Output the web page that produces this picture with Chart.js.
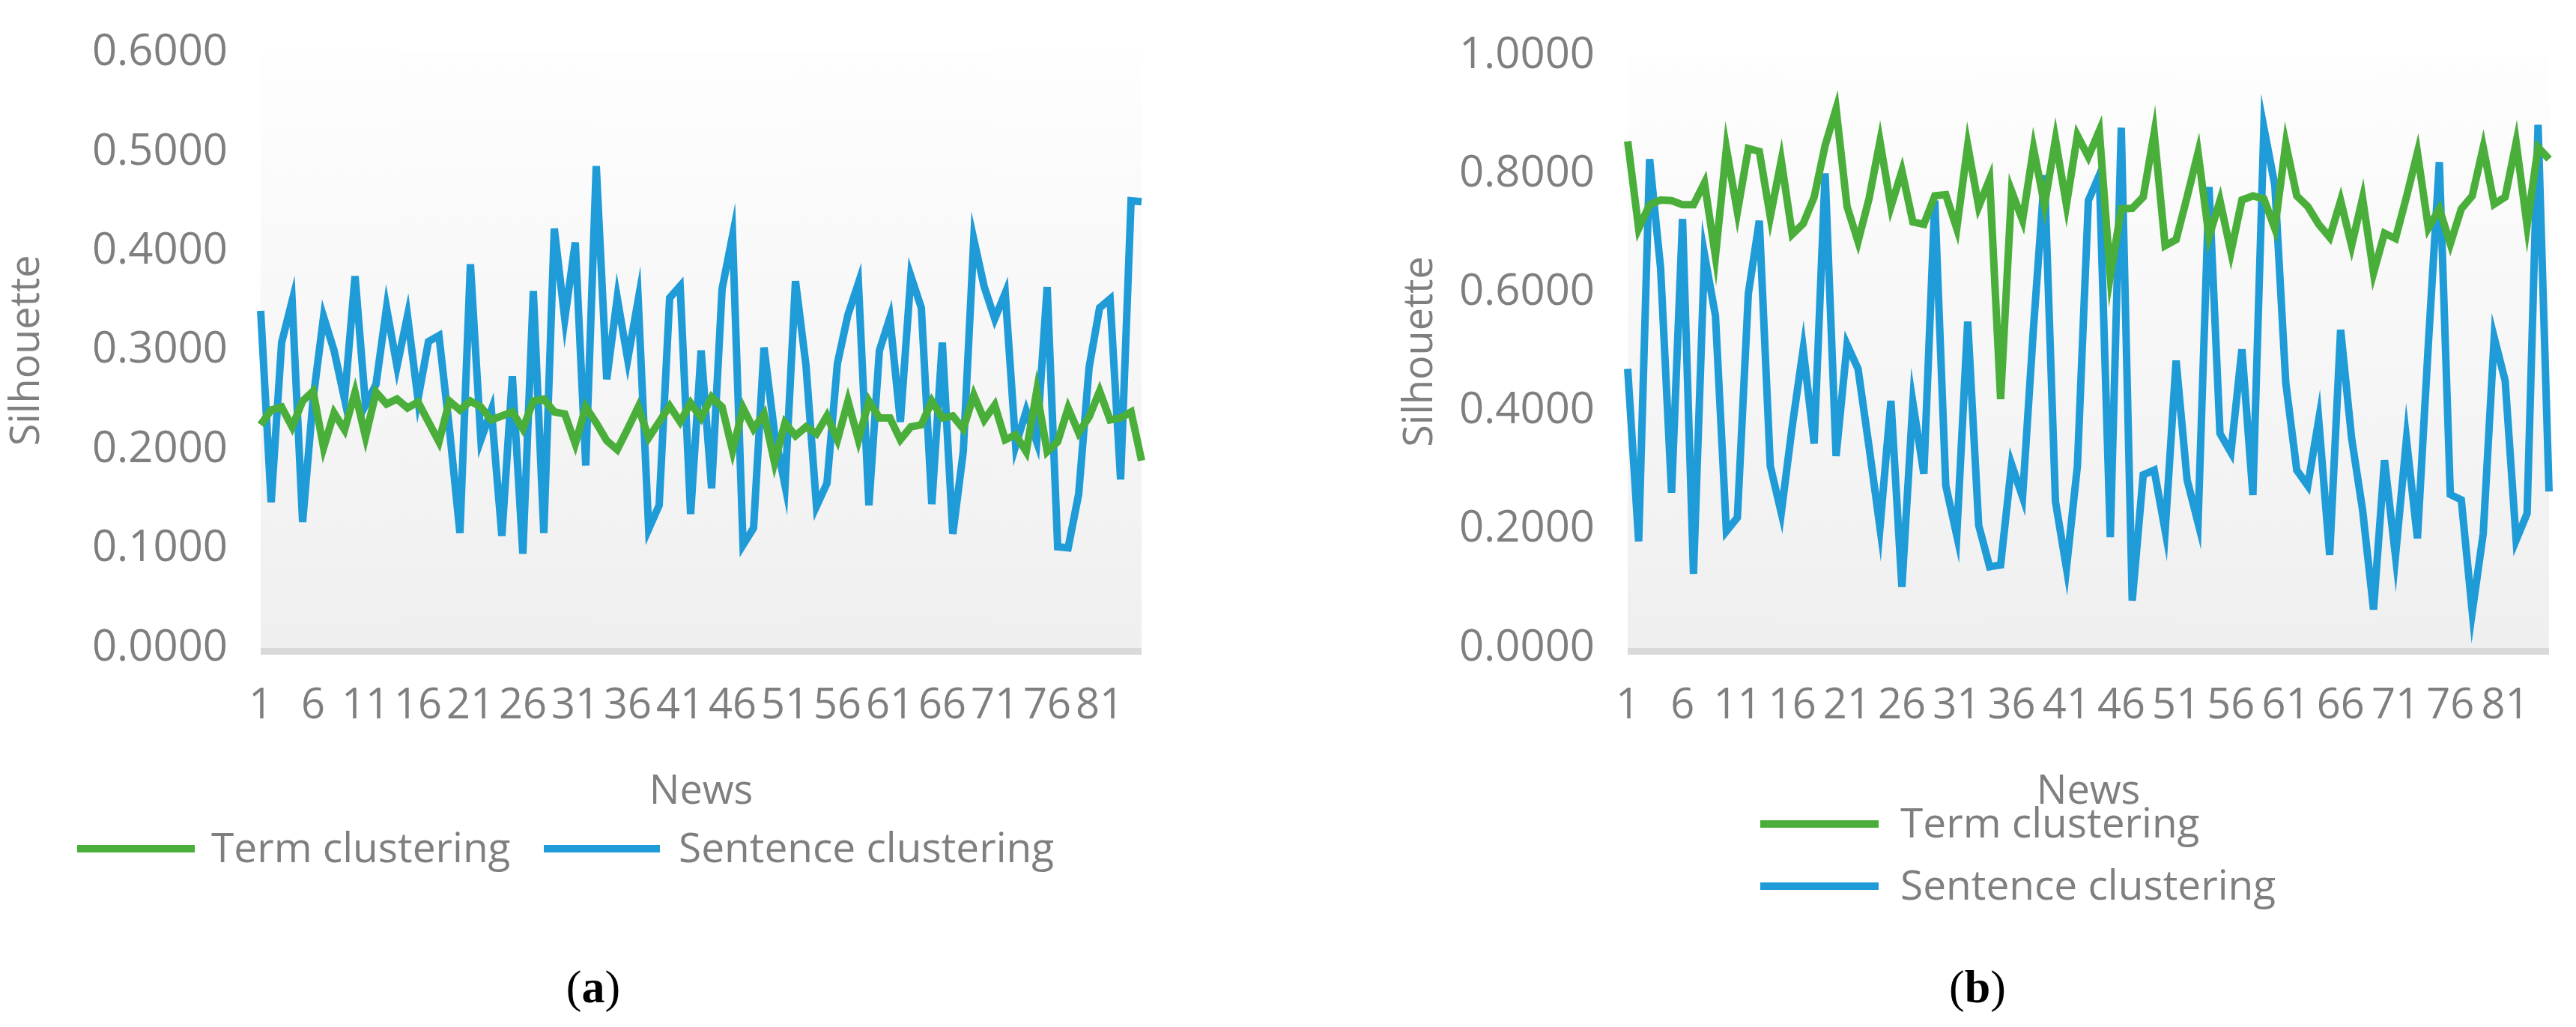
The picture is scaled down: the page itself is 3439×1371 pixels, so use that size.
<!DOCTYPE html>
<html><head><meta charset="utf-8">
<script src="https://cdn.jsdelivr.net/npm/chart.js@4"></script>
<style>
body{margin:0;width:3439px;height:1371px;background:#fff;position:relative;overflow:hidden;font-family:"Open Sans",sans-serif;}
.box{position:absolute;}
.leg{position:absolute;font-size:55px;color:#7f7f7f;line-height:1;white-space:nowrap;}
.sw{position:absolute;height:10px;}
.cap{position:absolute;font-family:"Liberation Serif",serif;font-size:62px;color:#000;transform:translateX(-50%);}
</style></head><body>
<div class="box" style="left:0;top:0;width:1560px;height:1090px"><canvas id="ca"></canvas></div>
<div class="box" style="left:1860px;top:0;width:1579px;height:1090px"><canvas id="cb"></canvas></div>
<div class="sw" style="left:103px;top:1128px;width:157px;background:#4aae3a"></div>
<div class="leg" style="left:282px;top:1102px">Term clustering</div>
<div class="sw" style="left:726px;top:1128px;width:155px;background:#1f9bd7"></div>
<div class="leg" style="left:906px;top:1102px">Sentence clustering</div>
<div class="sw" style="left:2350px;top:1095px;width:158px;background:#4aae3a"></div>
<div class="leg" style="left:2537px;top:1069px">Term clustering</div>
<div class="sw" style="left:2350px;top:1178px;width:158px;background:#1f9bd7"></div>
<div class="leg" style="left:2537px;top:1152px">Sentence clustering</div>
<div class="cap" style="left:792px;top:1282px">(<b>a</b>)</div>
<div class="cap" style="left:2640px;top:1282px">(<b>b</b>)</div>
<script>
const categories = Array.from({length:85},(_,i)=>String(i+1));
const termA = [.225,.240,.243,.223,.249,.259,.202,.237,.220,.258,.213,.258,.246,.251,.242,.248,.228,.208,.249,.240,.249,.243,.230,.234,.238,.221,.249,.251,.238,.236,.206,.243,.227,.209,.200,.221,.243,.212,.228,.244,.228,.247,.232,.253,.243,.199,.242,.221,.236,.187,.227,.214,.223,.216,.234,.210,.249,.210,.249,.232,.232,.210,.223,.225,.249,.232,.234,.221,.255,.230,.245,.210,.215,.198,.259,.198,.208,.242,.217,.233,.259,.230,.232,.238,.189];
const sentA = [.340,.147,.308,.350,.127,.251,.334,.300,.251,.375,.245,.266,.343,.284,.335,.251,.309,.315,.221,.116,.387,.210,.240,.113,.274,.095,.360,.116,.423,.332,.409,.184,.486,.271,.353,.291,.351,.120,.144,.353,.365,.135,.300,.161,.362,.416,.104,.121,.303,.217,.164,.370,.285,.143,.166,.287,.336,.368,.144,.300,.333,.228,.375,.343,.145,.308,.115,.198,.412,.364,.332,.358,.204,.239,.208,.364,.102,.101,.155,.283,.343,.352,.170,.451,.450];
const termB = [.855,.708,.748,.756,.755,.748,.748,.785,.661,.843,.736,.843,.838,.728,.823,.698,.716,.761,.848,.910,.745,.686,.758,.855,.745,.805,.719,.715,.763,.765,.708,.848,.745,.791,.420,.771,.722,.843,.748,.858,.748,.865,.829,.873,.628,.741,.742,.761,.869,.679,.689,.761,.836,.694,.755,.668,.756,.763,.758,.708,.851,.763,.745,.715,.693,.755,.679,.759,.633,.700,.691,.761,.836,.709,.741,.682,.741,.763,.845,.749,.761,.853,.713,.845,.825];
const sentB = [.471,.180,.825,.641,.262,.724,.125,.664,.561,.197,.220,.598,.721,.307,.228,.374,.504,.345,.801,.324,.512,.471,.340,.203,.417,.103,.414,.294,.755,.274,.190,.551,.207,.137,.140,.310,.255,.541,.798,.247,.135,.307,.755,.798,.187,.878,.080,.292,.300,.198,.485,.284,.211,.778,.362,.330,.504,.258,.878,.781,.447,.300,.274,.385,.157,.537,.354,.233,.065,.317,.155,.352,.185,.514,.820,.259,.250,.061,.193,.524,.451,.182,.227,.883,.264];
const ticksA = [0,0.1,0.2,0.3,0.4,0.5,0.6];
const ticksB = [0,0.2,0.4,0.6,0.8,1.0];

const bg = {id:'bg',beforeDatasetsDraw(c){const a=c.chartArea,x=c.ctx;const g=x.createLinearGradient(0,a.top,0,a.bottom);g.addColorStop(0,'#fefefe');g.addColorStop(1,'#efefef');x.save();x.fillStyle=g;x.fillRect(a.left,a.top,a.right-a.left,a.bottom-a.top);x.fillStyle='#d9d9d9';x.fillRect(a.left,a.bottom,a.right-a.left,9);x.restore();}};
function make(id,t,s,max,step,pr,pt,yw){
  new Chart(document.getElementById(id),{type:'line',
    data:{labels:categories,datasets:[
      {label:'Term clustering',data:t,borderColor:'#4aae3a',borderWidth:10,pointRadius:0,tension:0},
      {label:'Sentence clustering',data:s,borderColor:'#1f9bd7',borderWidth:10,pointRadius:0,tension:0}]},
    options:{responsive:true,maintainAspectRatio:false,animation:false,
      layout:{padding:{top:pt,right:pr,left:0,bottom:0}},
      plugins:{legend:{display:false},tooltip:{enabled:false}},
      scales:{
        x:{offset:false,grid:{display:false},border:{display:false},
          ticks:{autoSkip:false,maxRotation:0,minRotation:0,padding:36,color:'#7f7f7f',font:{size:56,family:'Open Sans'},
            callback:(v,i)=>i%5===0?categories[i]:''},
          title:{display:true,text:'News',color:'#7f7f7f',font:{size:54,family:'Open Sans'},padding:{top:10,bottom:0}},
          afterFit:a=>{a.height=225;}},
        y:{min:0,max:max,grid:{display:false},border:{display:false},
          ticks:{stepSize:step,padding:36,color:'#7f7f7f',font:{size:58,family:'Open Sans'},callback:v=>Number(v).toFixed(4)},
          title:{display:true,text:'Silhouette',color:'#7f7f7f',font:{size:54,family:'Open Sans'},padding:{bottom:0}},
          afterFit:a=>{a.width=yw;}}}},
    plugins:[bg]});
}
make('ca',termA,sentA,ticksA[ticksA.length-1],0.1,29,55,348);
make('cb',termB,sentB,ticksB[ticksB.length-1],0.2,34,74,313);
</script></body></html>
